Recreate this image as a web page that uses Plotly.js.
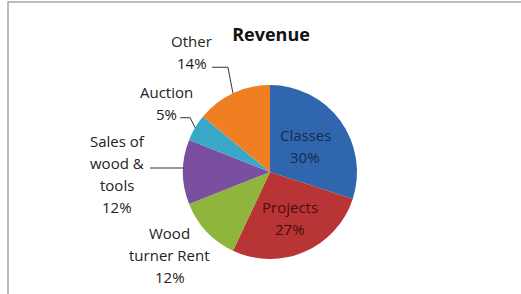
<!DOCTYPE html>
<html><head><meta charset="utf-8">
<script src="https://cdn.plot.ly/plotly-3.0.1.min.js"></script>
<style>html,body{margin:0;padding:0;background:#fff;}</style>
</head><body><div id="chart" style="width:521px;height:294px;"></div>
<script>
const categories = ["Classes", "Projects", "Wood turner Rent", "Sales of wood & tools", "Auction", "Other"];
const values = [30, 27, 12, 12, 5, 14];
const labelLines = [["Classes", "30%"], ["Projects", "27%"], ["Wood", "turner Rent", "12%"], ["Sales of", "wood &", "tools", "12%"], ["Auction", "5%"], ["Other", "14%"]];
const colors = ["#3066ad", "#b93434", "#8fb53d", "#7a4f9f", "#38a8c6", "#f07f22"];

const W = 521, H = 294;
const cx = 270, cy = 172, R = 87;
const font = "Open Sans, Liberation Sans, sans-serif";

// label placement style (pixels): inside labels at fraction of radius, outside offsets from slice edge
const place = [
  {inside: 0.5, color: "#142a4e"},
  {inside: 0.58, color: "#4a0c0c"},
  {dx: -37, dy: 23},
  {dx: -66, dy: 2, lead: [[1, -4], [-33, -4]]},
  {dx: -29, dy: -25, lead: [[0, 0], [-5, -10], [-15, -10]]},
  {dx: -41, dy: -41, lead: [[0, 0], [-5, -26], [-21, -26]]}
];

const px = x => x / W, py = y => 1 - y / H;
const total = values.reduce((a, b) => a + b, 0);
const annotations = [], shapes = [];
let cum = 0;
values.forEach((v, i) => {
  const mid = (cum + v / 2) / total * 2 * Math.PI; cum += v;
  const s = Math.sin(mid), c = Math.cos(mid);
  const p = place[i];
  let lx, ly, col = "#222";
  const ex = cx + R * s, ey = cy - R * c;
  if (p.inside) { lx = cx + R * p.inside * s; ly = cy - R * p.inside * c; col = p.color; }
  else { lx = ex + p.dx; ly = ey + p.dy; }
  const lines = labelLines[i], lh = 22;
  lines.forEach((t, k) => {
    annotations.push({text: t, x: px(lx), y: py(ly + (k - (lines.length - 1) / 2) * lh), xref: "paper", yref: "paper",
      showarrow: false, xanchor: "center", yanchor: "middle", font: {family: font, size: 15, color: col}});
  });
  if (p.lead) {
    const path = p.lead.map((q, k) => (k ? "L" : "M") + px(ex + q[0]) + "," + py(ey + q[1])).join(" ");
    shapes.push({type: "path", path: path, xref: "paper", yref: "paper", line: {color: "#333", width: 1}});
  }
});
shapes.push({type: "path", xref: "paper", yref: "paper", path: `M${px(8)},${py(300)} L${px(8)},${py(2)} L${px(530)},${py(2)}`, line: {color: "#a8a8a8", width: 1.5}});

const data = [{
  type: "pie", labels: categories, values: values, sort: false, direction: "clockwise", rotation: 0,
  marker: {colors: colors, line: {width: 0}}, textinfo: "none", hoverinfo: "label+percent",
  domain: {x: [(cx - R) / W, (cx + R) / W], y: [py(cy + R), py(cy - R)]}, showlegend: false
}];
const layout = {
  width: W, height: H, margin: {l: 0, r: 0, t: 0, b: 0}, paper_bgcolor: "#fff",
  title: {text: "<b>Revenue</b>", x: 271 / W, y: py(35), xanchor: "center", yanchor: "middle", xref: "paper", yref: "container",
    font: {family: font, size: 18, color: "#111"}},
  annotations: annotations, shapes: shapes
};
Plotly.newPlot("chart", data, layout, {displayModeBar: false, staticPlot: true});
</script></body></html>
